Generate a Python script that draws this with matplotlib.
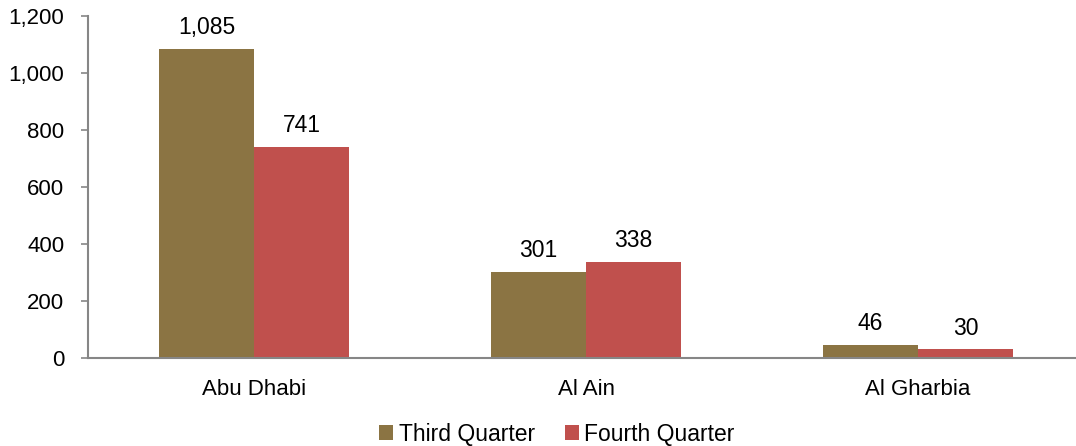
import matplotlib
matplotlib.use("Agg")
import matplotlib.pyplot as plt
import numpy as np

categories = ["Abu Dhabi", "Al Ain", "Al Gharbia"]
third_q = [1085, 301, 46]
fourth_q = [741, 338, 30]
series_names = ["Third Quarter", "Fourth Quarter"]
colors = ["#8B7443", "#C0504D"]

plt.rcParams['font.family'] = ['Liberation Sans', 'DejaVu Sans']
W, H = 1076, 446
fig = plt.figure(figsize=(W / 100, H / 100), dpi=100)
left, right, top, bottom = 88, 1084, 16, 358
ax = fig.add_axes([left / W, 1 - bottom / H, (right - left) / W, (bottom - top) / H])

x = np.arange(len(categories))
bw = 0.286
b1 = ax.bar(x - bw / 2, third_q, bw, color=colors[0], label=series_names[0])
b2 = ax.bar(x + bw / 2, fourth_q, bw, color=colors[1], label=series_names[1])
for bars in (b1, b2):
    for r in bars:
        ax.annotate(f"{int(r.get_height()):,}", (r.get_x() + r.get_width() / 2, r.get_height()),
                    xytext=(0, 7), textcoords="offset points",
                    ha="center", va="bottom", fontsize=16.5)

ax.set_xlim(-0.5, 2.5)
ax.set_ylim(0, 1200)
ax.set_yticks(range(0, 1201, 200))
ax.yaxis.set_major_formatter(matplotlib.ticker.FuncFormatter(lambda v, p: f"{int(v):,}"))
ax.set_xticks(x)
ax.set_xticklabels(categories)
ax.tick_params(axis="x", length=0, pad=15, labelsize=16)
ax.tick_params(axis="y", length=5, color="#868686", width=1.2, pad=12, labelsize=16)
for s in ["top", "right"]:
    ax.spines[s].set_visible(False)
for s in ["left", "bottom"]:
    ax.spines[s].set_color("#868686")
    ax.spines[s].set_linewidth(1.5)

fig.legend(handles=[b1, b2], labels=series_names, loc="center", bbox_to_anchor=(557 / W, 1 - 434 / H),
           ncol=2, frameon=False, fontsize=16.5, handlelength=0.6, handleheight=0.6,
           handletextpad=0.25, columnspacing=1.3)

fig.savefig("out.png", dpi=100)
